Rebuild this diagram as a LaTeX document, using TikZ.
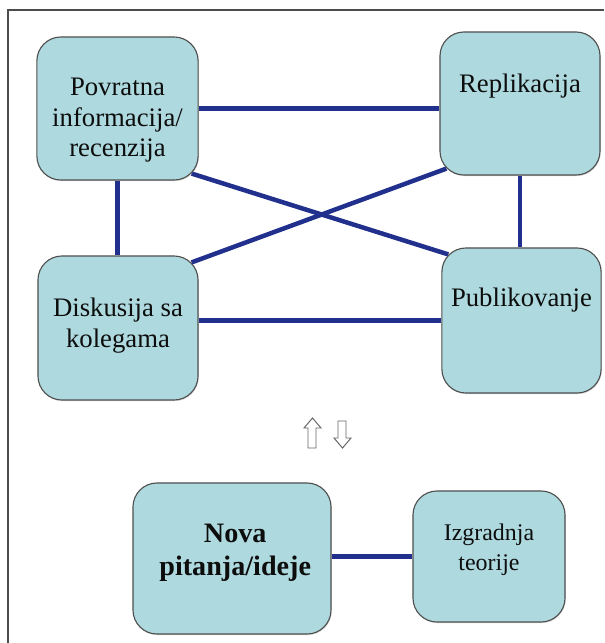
\documentclass[tikz,border=0pt]{standalone}
\usepackage{fontspec}
\setmainfont{LiberationSerif}[Extension=.ttf, UprightFont=*-Regular, BoldFont=*-Bold]
\usetikzlibrary{backgrounds,shadows}
\definecolor{boxfill}{RGB}{174,217,222}
\definecolor{linkblue}{RGB}{32,48,140}
\definecolor{boxedge}{RGB}{80,80,80}

\begin{document}
\begin{tikzpicture}[x=0.025cm, y=-0.025cm,
    box/.style={draw=boxedge, line width=0.8pt, fill=boxfill, rounded corners=0.6cm, inner sep=0pt,
      drop shadow={shadow xshift=0.5pt, shadow yshift=-0.8pt, opacity=0.3}},
    txt/.style={align=center, text=black!95, font=\fontsize{19}{22}\selectfont},
    link/.style={draw=linkblue, line width=3.2pt},
    hollow/.style={draw=black!60, line width=0.7pt, fill=white, line join=miter}]
    \useasboundingbox (0,0) rectangle (604,643);
    \draw[black!70, line width=0.8pt] (8,643) -- (8,10) -- (604,10);

    % upper four boxes
    \node[box, minimum width=4.03cm, minimum height=3.575cm,
      label={[txt, yshift=-0.29cm]center:Povratna\\informacija/\\recenzija}] (povr) at (117.5,108.5) {};
    \node[box, minimum width=4cm, minimum height=3.575cm,
      label={[txt, yshift=0.44cm]center:Replikacija}] (repl) at (520,103.5) {};
    \node[box, minimum width=4cm, minimum height=3.6cm,
      label={[txt, yshift=0.05cm]center:Diskusija sa\\kolegama}] (disk) at (118,328) {};
    \node[box, minimum width=3.98cm, minimum height=3.625cm,
      label={[txt, yshift=0.51cm]center:Publikovanje}] (publ) at (521.5,320.5) {};

    % lower two boxes
    \node[box, minimum width=4.95cm, minimum height=3.775cm,
      label={[txt, font=\fontsize{20}{24}\selectfont\bfseries, yshift=0.14cm, xshift=0.08cm]center:Nova\\pitanja/ideje}] (nova) at (232,558.5) {};
    \node[box, minimum width=3.8cm, minimum height=3.275cm,
      label={[txt, font=\fontsize{17}{21.5}\selectfont, yshift=0.16cm]center:Izgradnja\\teorije}] (izgr) at (489,556.5) {};

    \begin{scope}[on background layer]
      \draw[link] (povr.east) -- (povr.east -| repl.west);
      \draw[link] (povr.south) -- (povr.south |- disk.north);
      \draw[link] (repl.south) -- (repl.south |- publ.north);
      \draw[link] (publ.west -| disk.east) -- (publ.west);
      \draw[link] ([shift={(-7,-7)}]povr.south east) -- ([shift={(7,7)}]publ.north west);
      \draw[link] ([shift={(7,-7)}]repl.south west) -- ([shift={(-7,7)}]disk.north east);
      \draw[link] (izgr.west -| nova.east) -- (izgr.west);
    \end{scope}

    % hollow arrows between the groups
    \draw[hollow] (308,448) -- (308,428) -- (304,428) -- (312.5,418) -- (321,428) -- (316,428) -- (316,448) -- cycle;
    \draw[hollow] (338,421) -- (338,438) -- (334,438) -- (342.5,448) -- (351,438) -- (346,438) -- (346,421) -- cycle;
\end{tikzpicture}
\end{document}
